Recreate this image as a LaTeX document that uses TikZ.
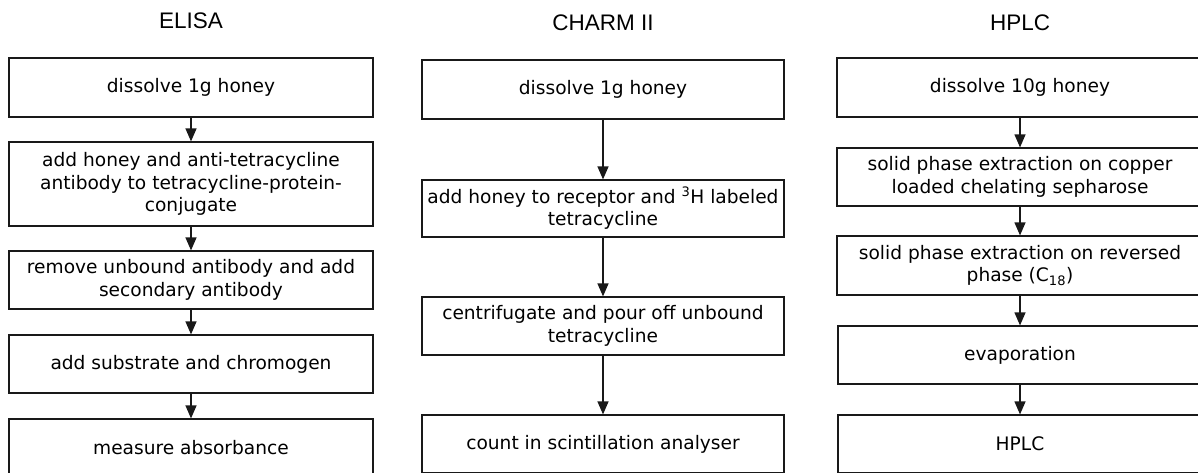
\documentclass[tikz,border=0pt]{standalone}
\usepackage{fontspec}
\setmainfont{DejaVu Sans}
\newfontfamily\titlefont{Liberation Sans}
\usetikzlibrary{arrows.meta}
\tikzset{
  stepbox/.style={draw=black!90, line width=1.2pt, inner sep=0pt, align=center,
    font=\fontsize{18.6}{22.6}\selectfont},
  coltitle/.style={inner sep=0pt, font=\titlefont\fontsize{22.5}{26}\selectfont},
  flow/.style={draw=black!90, line width=1.2pt, -{Triangle[length=13pt,width=11pt]}}
}
\begin{document}
\begin{tikzpicture}[x=1pt,y=-1pt]
\useasboundingbox (0,0) rectangle (1198,472);
\clip (0,0) rectangle (1198,472);
% titles
\node[coltitle] (tE) at (191,21) {ELISA};
\node[coltitle] (tC) at (603,23) {CHARM II};
\node[coltitle] (tH) at (1020,23) {HPLC};
% ELISA
\node[stepbox, minimum width=364pt, minimum height=59pt] (e1) at (191,87.5) {dissolve 1g honey};
\node[stepbox, minimum width=364pt, minimum height=84pt] (e2) at (191,184) {add honey and anti-tetracycline\\antibody to tetracycline-protein-\\conjugate};
\node[stepbox, minimum width=364pt, minimum height=58pt] (e3) at (191,280) {remove unbound antibody and add\\secondary antibody};
\node[stepbox, minimum width=364pt, minimum height=58pt] (e4) at (191,364) {add substrate and chromogen};
\node[stepbox, minimum width=364pt, minimum height=58pt] (e5) at (191,448) {measure absorbance};
% CHARM II
\node[stepbox, minimum width=362pt, minimum height=59pt] (c1) at (603,89.5) {dissolve 1g honey};
\node[stepbox, minimum width=362pt, minimum height=57pt] (c2) at (603,208.5) {add honey to receptor and \textsuperscript{3}H labeled\\tetracycline};
\node[stepbox, minimum width=362pt, minimum height=58pt] (c3) at (603,326) {centrifugate and pour off unbound\\tetracycline};
\node[stepbox, minimum width=362pt, minimum height=58pt] (c4) at (603,444) {count in scintillation analyser};
% HPLC
\node[stepbox, minimum width=366pt, minimum height=59pt] (h1) at (1020,87.5) {dissolve 10g honey};
\node[stepbox, minimum width=366pt, minimum height=58pt] (h2) at (1020,177) {solid phase extraction on copper\\loaded chelating sepharose};
\node[stepbox, minimum width=366pt, minimum height=59pt] (h3) at (1020,265.5) {solid phase extraction on reversed\\phase (C\textsubscript{18})};
\node[stepbox, minimum width=364pt, minimum height=58pt] (h4) at (1020,355) {evaporation};
\node[stepbox, minimum width=364pt, minimum height=58pt] (h5) at (1020,444) {HPLC};
% connectors
\draw[flow] (e1.south) -- (e2.north);
\draw[flow] (e2.south) -- (e3.north);
\draw[flow] (e3.south) -- (e4.north);
\draw[flow] (e4.south) -- (e5.north);
\draw[flow] (c1.south) -- (c2.north);
\draw[flow] (c2.south) -- (c3.north);
\draw[flow] (c3.south) -- (c4.north);
\draw[flow] (h1.south) -- (h2.north);
\draw[flow] (h2.south) -- (h3.north);
\draw[flow] (h3.south) -- (h4.north);
\draw[flow] (h4.south) -- (h5.north);
\end{tikzpicture}
\end{document}
